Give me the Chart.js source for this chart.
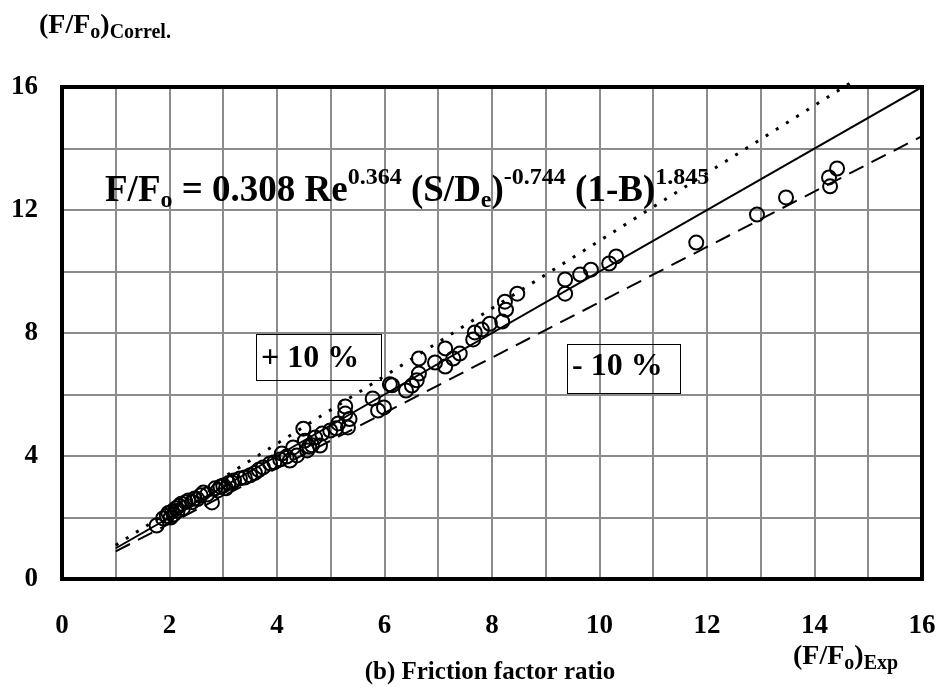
<!DOCTYPE html>
<html>
<head>
<meta charset="utf-8">
<script src="https://cdn.jsdelivr.net/npm/chart.js@4.4.0/dist/chart.umd.min.js"></script>
<style>
html, body { margin: 0; padding: 0; background: #fff; }
#wrap { width: 943px; height: 691px; }
</style>
</head>
<body>
<div id="wrap"><canvas id="frictionChart" width="943" height="691"></canvas></div>
<script>
const expRatio = [
    1.76, 1.88, 1.95, 1.98, 2.02, 2.05, 2.08, 2.12, 2.15, 2.18, 2.22, 2.25, 2.30, 2.35, 2.42,
    2.47, 2.52, 2.58, 2.63, 2.70, 2.79, 2.85, 2.90, 2.95, 3.00, 3.05, 3.10, 3.16, 3.20, 3.31,
    3.40, 3.50, 3.59, 3.66, 3.74,
    3.87, 3.95, 4.06, 4.09, 4.18, 4.24, 4.30, 4.37, 4.49, 4.52, 4.56, 4.60, 4.65, 4.71, 4.80,
    4.84, 4.99, 5.10, 5.14, 5.27, 5.27, 5.32, 5.35, 5.78, 5.88, 5.99, 6.10, 6.14,
    6.40, 6.51, 6.60, 6.64, 6.64, 6.94, 7.13, 7.13, 7.28, 7.40, 7.65, 7.68, 7.81, 7.96, 8.19,
    8.26, 8.24, 8.47, 9.36, 9.36, 9.64, 9.84, 10.18, 10.31, 11.80, 12.93, 13.47, 14.29, 14.27, 14.42
];
const correlRatio = [
    1.74, 1.97, 2.05, 2.15, 2.00, 2.20, 2.10, 2.30, 2.22, 2.38, 2.45, 2.30, 2.50, 2.55, 2.50,
    2.62, 2.60, 2.72, 2.81, 2.75, 2.49, 2.95, 2.88, 3.00, 3.04, 2.95, 3.12, 3.14, 3.20, 3.27,
    3.30, 3.37, 3.45, 3.55, 3.63,
    3.76, 3.80, 3.89, 4.08, 3.98, 3.85, 4.28, 4.02, 4.89, 4.50, 4.18, 4.30, 4.35, 4.60, 4.34,
    4.73, 4.83, 4.90, 5.06, 5.38, 5.61, 4.93, 5.20, 5.87, 5.48, 5.58, 6.33, 6.30,
    6.13, 6.29, 6.46, 6.68, 7.17, 7.04, 7.50, 6.91, 7.17, 7.33, 7.79, 8.02, 8.11, 8.30, 8.37,
    8.76, 9.02, 9.28, 9.28, 9.74, 9.90, 10.06, 10.26, 10.49, 10.94, 11.85, 12.41, 12.77, 13.06, 13.35
];

// reference lines: perfect agreement and the +10 % / -10 % band
const equalLineX = [1, 16];
const equalLineY = [1, 16];
const plusLineX = [1, 14.7];
const plusLineY = [1.1, 16.17];
const minusLineX = [1, 16];
const minusLineY = [0.9, 14.4];

const xTickLabels = [0, 2, 4, 6, 8, 10, 12, 14, 16];
const yTickLabels = [0, 4, 8, 12, 16];

const SERIF = '"Liberation Serif", "Times New Roman", serif';

function toPoints(xs, ys) {
    return xs.map((x, i) => ({ x: x, y: ys[i] }));
}

// draws a row of text pieces with sub/superscripts
function drawRuns(ctx, x, y, runs) {
    runs.forEach(r => {
        ctx.font = 'bold ' + r.size + 'px ' + SERIF;
        ctx.fillText(r.t, x, y + (r.dy || 0));
        x += ctx.measureText(r.t).width;
    });
    return x;
}

function boxedLabel(ctx, text, box, baseX, baseY) {
    ctx.lineWidth = 1;
    ctx.strokeStyle = '#000';
    ctx.strokeRect(box[0] + 0.5, box[1] + 0.5, box[2], box[3]);
    ctx.font = 'bold 32px ' + SERIF;
    ctx.fillText(text, baseX, baseY);
}

const frameAndText = {
    id: 'frameAndText',
    afterDatasetsDraw(chart) {
        const { ctx, chartArea: a } = chart;
        ctx.save();
        ctx.strokeStyle = '#000';
        ctx.lineWidth = 4;
        ctx.strokeRect(a.left, a.top, a.right - a.left, a.bottom - a.top);

        ctx.fillStyle = '#000';
        ctx.textAlign = 'left';
        ctx.textBaseline = 'alphabetic';

        // correlation
        drawRuns(ctx, 105, 201, [
            { t: 'F/F', size: 37 },
            { t: 'o', size: 24, dy: 6 },
            { t: ' = 0.308 Re', size: 37 },
            { t: '0.364', size: 24, dy: -17 },
            { t: ' (S/D', size: 37 },
            { t: 'e', size: 24, dy: 6 },
            { t: ')', size: 37 },
            { t: '-0.744', size: 24, dy: -17 },
            { t: ' (1-B)', size: 37 },
            { t: '1.845', size: 24, dy: -17 }
        ]);

        boxedLabel(ctx, '+ 10 %', [256, 334, 125, 46], 261, 367);
        boxedLabel(ctx, '- 10 %', [567, 344, 113, 49], 572, 375);

        // axis titles
        drawRuns(ctx, 39, 33, [
            { t: '(F/F', size: 28 },
            { t: 'o', size: 20, dy: 5 },
            { t: ')', size: 28 },
            { t: 'Correl.', size: 20, dy: 5 }
        ]);
        drawRuns(ctx, 793, 664, [
            { t: '(F/F', size: 28 },
            { t: 'o', size: 20, dy: 5 },
            { t: ')', size: 28 },
            { t: 'Exp', size: 20, dy: 5 }
        ]);
        ctx.textAlign = 'center';
        ctx.font = 'bold 25px ' + SERIF;
        ctx.fillText('(b) Friction factor ratio', 490, 679);
        ctx.restore();
    }
};

const tickFont = { family: SERIF, size: 27, weight: 'bold' };

new Chart(document.getElementById('frictionChart').getContext('2d'), {
    type: 'scatter',
    data: {
        datasets: [
            {
                label: 'data',
                data: toPoints(expRatio, correlRatio),
                pointStyle: 'circle',
                pointRadius: 7,
                pointBorderWidth: 2,
                pointBorderColor: '#000',
                pointBackgroundColor: 'rgba(0,0,0,0)',
                showLine: false
            },
            {
                label: 'equal',
                data: toPoints(equalLineX, equalLineY),
                showLine: true,
                borderColor: '#000',
                borderWidth: 2,
                pointRadius: 0
            },
            {
                label: '+10%',
                data: toPoints(plusLineX, plusLineY),
                showLine: true,
                borderColor: '#000',
                borderWidth: 3,
                borderDash: [3, 9],
                pointRadius: 0,
                clip: false
            },
            {
                label: '-10%',
                data: toPoints(minusLineX, minusLineY),
                showLine: true,
                borderColor: '#000',
                borderWidth: 2,
                borderDash: [16, 9],
                pointRadius: 0
            }
        ]
    },
    options: {
        responsive: false,
        animation: false,
        layout: { padding: { left: 0, top: 87, right: 21, bottom: 0 } },
        plugins: {
            legend: { display: false },
            tooltip: { enabled: false }
        },
        scales: {
            x: {
                type: 'linear',
                min: 0,
                max: 16,
                afterFit(scale) {
                    scale.height = 112;
                    scale.paddingLeft = 0;
                    scale.paddingRight = 0;
                },
                ticks: {
                    stepSize: 1,
                    autoSkip: false,
                    maxRotation: 0,
                    padding: 31,
                    color: '#000',
                    font: tickFont,
                    callback: v => xTickLabels.includes(v) ? String(v) : ''
                },
                grid: { color: '#8c8c8c', lineWidth: 2, drawTicks: false },
                border: { display: false }
            },
            y: {
                type: 'linear',
                min: 0,
                max: 16,
                afterFit(scale) {
                    scale.width = 62;
                    scale.paddingTop = 0;
                    scale.paddingBottom = 0;
                },
                ticks: {
                    stepSize: 2,
                    autoSkip: false,
                    padding: 24,
                    color: '#000',
                    font: tickFont,
                    callback: v => yTickLabels.includes(v) ? String(v) : ''
                },
                grid: { color: '#8c8c8c', lineWidth: 2, drawTicks: false },
                border: { display: false }
            }
        }
    },
    plugins: [frameAndText]
});
</script>
</body>
</html>
